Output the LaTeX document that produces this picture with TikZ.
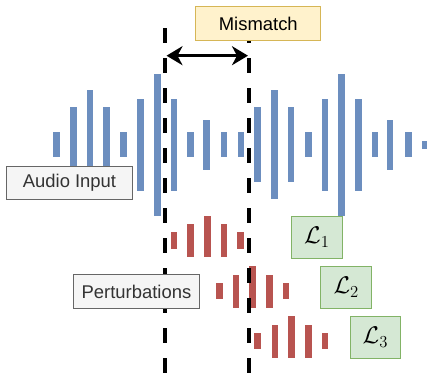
\documentclass[tikz,border=0pt]{standalone}
\usepackage{fontspec}
\setmainfont{Liberation Sans}
\usepackage{tikz}
\usetikzlibrary{arrows.meta,positioning}

\definecolor{audioblue}{HTML}{6C8EBF}
\definecolor{pertred}{HTML}{B85450}
\definecolor{mismfill}{HTML}{FFF2CC}
\definecolor{mismline}{HTML}{D6B656}
\definecolor{lossfill}{HTML}{D5E8D4}
\definecolor{lossline}{HTML}{82B366}
\definecolor{greyfill}{HTML}{F5F5F5}
\definecolor{greyline}{HTML}{666666}
\definecolor{greytext}{HTML}{333333}

\newcommand{\losslabel}[1]{\scalebox{1.4}{$\mathcal{L}_{#1}$}}

\begin{document}
\begin{tikzpicture}[x=1bp,y=-1bp,font=\fontsize{18.5}{21}\selectfont]
\tikzset{bar/.style={inner sep=0pt,outer sep=0pt,minimum width=6.7bp}}
\tikzset{bbar/.style={bar,fill=audioblue},rbar/.style={bar,fill=pertred}}
\tikzset{greybox/.style={draw=greyline,fill=greyfill,text=greytext,line width=1bp,minimum width=125.6bp,minimum height=33.6bp}}
\tikzset{lossbox/.style={draw=lossline,fill=lossfill,line width=1bp,minimum width=50.7bp,minimum height=42.3bp}}
%\tikzset{every node/.append style={draw=red}}

\useasboundingbox (0,0) rectangle (427,375);

% audio input
\node[bbar,minimum height=25bp]		(b1)	at (56.7,144.5)	{};
\node[bbar,minimum height=75bp]		(b2)	at (73.3,144.5)	{};
\node[bbar,minimum height=109bp]	(b3)	at (90.0,144.5)	{};
\node[bbar,minimum height=75bp]		(b4)	at (106.7,144.5)	{};
\node[bbar,minimum height=25bp]		(b5)	at (123.3,144.5)	{};
\node[bbar,minimum height=92bp]		(b6)	at (140.7,144.5)	{};
\node[bbar,minimum height=142bp]	(b7)	at (157.3,144.5)	{};
\node[bbar,minimum height=92bp]		(b8)	at (174.0,144.5)	{};
\node[bbar,minimum height=25bp]		(b9)	at (190.7,144.5)	{};
\node[bbar,minimum height=50bp]		(b10)	at (206.7,144.5)	{};
\node[bbar,minimum height=25bp]		(b11)	at (224.0,144.5)	{};
\node[bbar,minimum height=25bp]		(b12)	at (241.0,144.5)	{};
\node[bbar,minimum height=75bp]		(b13)	at (257.7,144.5)	{};
\node[bbar,minimum height=109bp]	(b14)	at (274.3,144.5)	{};
\node[bbar,minimum height=75bp]		(b15)	at (291.0,144.5)	{};
\node[bbar,minimum height=25bp]		(b16)	at (308.3,144.5)	{};
\node[bbar,minimum height=92bp]		(b17)	at (325.0,144.5)	{};
\node[bbar,minimum height=142bp]	(b18)	at (341.7,144.5)	{};
\node[bbar,minimum height=92bp]		(b19)	at (358.3,144.5)	{};
\node[bbar,minimum height=25bp]		(b20)	at (375.0,144.5)	{};
\node[bbar,minimum height=50bp]		(b21)	at (390.0,144.5)	{};
\node[bbar,minimum height=25bp]		(b22)	at (408.3,144.5)	{};
\node[bbar,minimum height=8bp]		(b23)	at (425.0,144.5)	{};

\node[greybox]	(audio)	at (69.5,182.8)	{Audio Input};

% perturbations
\node[rbar,minimum height=16.7bp]	(r11)	at (174.0,240.7)	{};
\node[rbar,minimum height=33bp]		(r12)	at (190.7,240.8)	{};
\node[rbar,minimum height=41.7bp]	(r13)	at (207.3,236.5)	{};
\node[rbar,minimum height=33bp]		(r14)	at (224.0,240.8)	{};
\node[rbar,minimum height=16.7bp]	(r15)	at (240.7,240.7)	{};

\node[rbar,minimum height=16.7bp]	(r21)	at (219.3,291.0)	{};
\node[rbar,minimum height=33bp]		(r22)	at (236.0,291.2)	{};
\node[rbar,minimum height=41.7bp]	(r23)	at (252.7,286.8)	{};
\node[rbar,minimum height=33bp]		(r24)	at (269.3,291.2)	{};
\node[rbar,minimum height=16.7bp]	(r25)	at (286.0,291.0)	{};

\node[rbar,minimum height=16.7bp]	(r31)	at (257.7,341.0)	{};
\node[rbar,minimum height=33bp]		(r32)	at (275.0,341.2)	{};
\node[rbar,minimum height=41.7bp]	(r33)	at (291.7,336.8)	{};
\node[rbar,minimum height=33bp]		(r34)	at (308.3,341.2)	{};
\node[rbar,minimum height=16.7bp]	(r35)	at (325.0,341.0)	{};

% window
\coordinate	(lt)	at (165.0,28.3);
\coordinate	(lb)	at (165.0,375);
\coordinate	(rt)	at (249.3,28.3);
\coordinate	(rb)	at (249.3,375);
\draw[line width=4bp,dash pattern=on 15bp off 15bp] (lt) -- (lb) (rt) -- (rb);

\node[greybox]	(pert)	at (136.5,291.7)	{Perturbations};
\node[draw=mismline,fill=mismfill,line width=1bp,minimum width=125.3bp,minimum height=33.6bp]	(mism)	at (258.3,23.5)	{Mismatch};

\coordinate	(ml)	at (166.5,55.7);
\coordinate	(mr)	at (248.0,55.7);
\draw[{Stealth[length=16bp,width=19bp,inset=5bp]}-{Stealth[length=16bp,width=19bp,inset=5bp]},line width=3.5bp] (ml) -- (mr);

% losses
\node[lossbox]	(l1)	at (317.0,237.2)	{\losslabel{1}};
\node[lossbox]	(l2)	at (346.3,287.2)	{\losslabel{2}};
\node[lossbox]	(l3)	at (375.5,337.5)	{\losslabel{3}};
\end{tikzpicture}
\end{document}
